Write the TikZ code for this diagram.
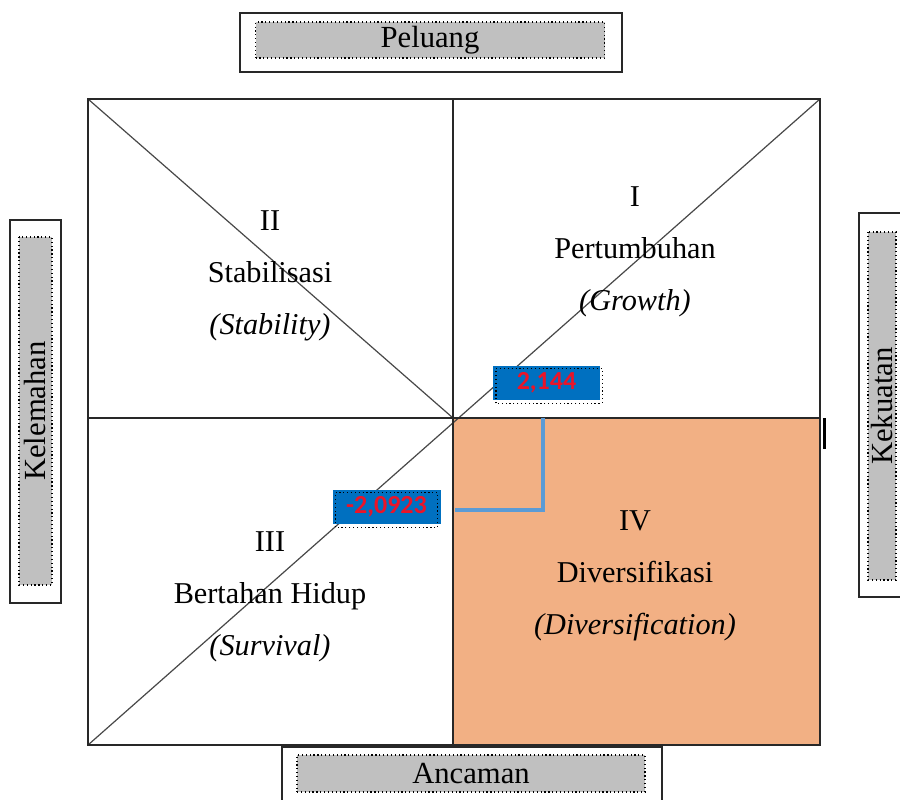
\documentclass[tikz,border=0pt]{standalone}
\usepackage{fontspec}
\setmainfont{Liberation Serif}
\newfontfamily\numfont{Carlito}
\usetikzlibrary{positioning}
\definecolor{peach}{RGB}{242,176,132}
\definecolor{tagblue}{RGB}{0,112,192}
\definecolor{linkblue}{RGB}{91,155,213}
\definecolor{tagred}{RGB}{235,20,40}
\definecolor{panel}{RGB}{192,192,192}
\definecolor{ink}{RGB}{40,40,40}
\tikzset{
  frame/.style={draw=ink,line width=1.4pt,fill=white,inner sep=0pt},
  panelbox/.style={draw=black,dotted,line width=0.9pt,fill=panel,inner sep=0pt,
    font=\fontsize{23}{27}\selectfont},
  quad/.style={font=\fontsize{22.7}{39}\selectfont,align=center},
  tag/.style={fill=tagblue,text=tagred,inner sep=0pt,minimum width=80pt,minimum height=25.5pt,
    font=\numfont\bfseries\fontsize{19.5}{22}\selectfont},
  tagrim/.style={draw=black,dotted,line width=0.9pt},
  diag/.style={draw=ink!85,line width=0.9pt},
}
\begin{document}
\begin{tikzpicture}[x=0.75pt,y=-0.75pt]
  \clip (0,0) rectangle (900,800);
  \fill[white] (0,0) rectangle (900,800);
  % quadrant IV shaded
  \fill[peach] (453,418) rectangle (820,745);
  % diagonals
  \draw[diag] (88,99) -- (453,418);
  \draw[diag] (88,745) -- (820,99);
  % outer box and axes
  \draw[ink,line width=1.1pt] (88,99) rectangle (820,745);
  \draw[ink,line width=1.1pt] (453,99) -- (453,745);
  \draw[ink,line width=1.1pt] (88,418) -- (820,418);
  \fill[black] (823,418) rectangle (826,449);

  % quadrant texts
  \node[quad] (q1) at (635,252) {I\\Pertumbuhan\\\textit{(Growth)}};
  \node[quad] (q2) at (270,276) {II\\Stabilisasi\\\textit{(Stability)}};
  \node[quad] (q3) at (270,597) {III\\Bertahan Hidup\\\textit{(Survival)}};
  \node[quad] (q4) at (635,576) {IV\\Diversifikasi\\\textit{(Diversification)}};

  % side labels
  \node[frame,minimum width=286.5pt,minimum height=44.25pt] (topF) at (431,42.5) {};
  \node[panelbox,minimum width=261.75pt,minimum height=27pt] (peluang) at (430,40) {Peluang};
  \node[frame,minimum width=285pt,minimum height=48.75pt] (botF) at (472,779.5) {};
  \node[panelbox,minimum width=261pt,minimum height=27.75pt] (ancaman) at (471,773.5) {Ancaman};
  \node[frame,minimum width=38.25pt,minimum height=287.25pt] (leftF) at (35.5,411.5) {};
  \node[panelbox,rotate=90,minimum width=261pt,minimum height=24.75pt] (kelemahan) at (35.5,411) {Kelemahan};
  \node[frame,minimum width=39.75pt,minimum height=288pt] (rightF) at (885.5,405) {};
  \node[panelbox,rotate=90,minimum width=261pt,minimum height=21pt] (kekuatan) at (882,406) {Kekuatan};

  % score connector
  \coordinate (hook) at (543,418);
  \coordinate (midV) at (455,510);
  \draw[linkblue,line width=3pt] (hook) |- (midV);

  % score tags
  \node[tag] (sX) at (546.5,383) {2,144};
  \draw[tagrim] ([shift={(3,3)}]sX.south west) rectangle ([shift={(2,3)}]sX.north east);
  \node[tag,minimum width=81pt] (sY) at (386.5,507) {-2,0923};
  \draw[tagrim] ([shift={(3,3)}]sY.south west) rectangle ([shift={(-3,3)}]sY.north east);
\end{tikzpicture}
\end{document}
